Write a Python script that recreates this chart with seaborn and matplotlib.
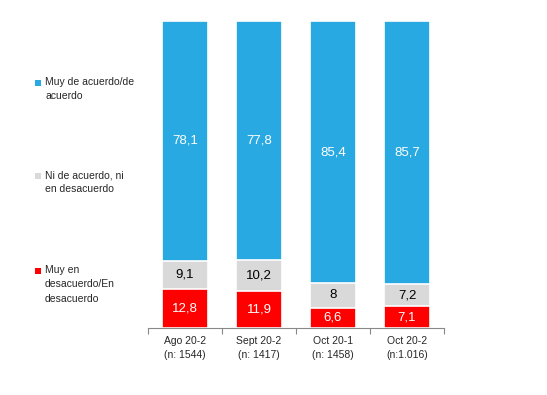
import numpy as np
import pandas as pd
import matplotlib
matplotlib.use("Agg")
import matplotlib.pyplot as plt
from matplotlib.patches import Rectangle
import seaborn as sns

# Datos
periodos = ["Ago 20-2\n(n: 1544)", "Sept 20-2\n(n: 1417)", "Oct 20-1\n(n: 1458)", "Oct 20-2\n(n:1.016)"]
desacuerdo = [12.8, 11.9, 6.6, 7.1]
ni_ni = [9.1, 10.2, 8, 7.2]
acuerdo = [78.1, 77.8, 85.4, 85.7]
etiquetas_ni = ["9,1", "10,2", "8", "7,2"]
etiquetas_des = ["12,8", "11,9", "6,6", "7,1"]
etiquetas_ac = ["78,1", "77,8", "85,4", "85,7"]

series = ["Muy de acuerdo/de\nacuerdo", "Ni de acuerdo, ni\nen desacuerdo", "Muy en\ndesacuerdo/En\ndesacuerdo"]
colores = ["#29A9E1", "#D9D9D9", "#FF0000"]

sns.set_style("white")
plt.rcParams['font.family'] = ['Liberation Sans', 'DejaVu Sans']

df = pd.DataFrame({"periodo": periodos, "des": desacuerdo, "ni": ni_ni, "ac": acuerdo})
df["tope_ni"] = df["des"] + df["ni"]
df["tope_ac"] = df["tope_ni"] + df["ac"]

fig = plt.figure(figsize=(5.47, 3.95), dpi=100)
ax = fig.add_axes([0.2706, 0.1696, 0.5411, 0.7772])

# barras apiladas: se dibujan los totales acumulados de arriba hacia abajo
for col, color in zip(["tope_ac", "tope_ni", "des"], colores):
    sns.barplot(data=df, x="periodo", y=col, color=color, width=0.61,
                edgecolor="white", linewidth=1.2, ax=ax, saturation=1)

ax.set_ylim(0, 100)
ax.set_xlim(-0.5, 3.5)
ax.set_xlabel("")
ax.set_ylabel("")
ax.set_yticks([])
for s in ["top", "right", "left"]:
    ax.spines[s].set_visible(False)
ax.spines["bottom"].set_color("#888888")
ax.spines["bottom"].set_linewidth(0.8)

# ticks menores en los límites de las categorías
ax.set_xticks(np.arange(len(periodos)))
ax.set_xticklabels(periodos, fontsize=7.5, linespacing=1.45)
ax.tick_params(axis="x", which="major", length=0, pad=6)
ax.set_xticks(np.arange(-0.5, len(periodos), 1.0), minor=True)
ax.tick_params(axis="x", which="minor", bottom=True, length=4, color="#888888",
               width=0.8, direction="out")

for i in range(len(periodos)):
    ax.text(i, desacuerdo[i] / 2, etiquetas_des[i], ha="center", va="center",
            color="white", fontsize=9.5)
    ax.text(i, desacuerdo[i] + ni_ni[i] / 2, etiquetas_ni[i], ha="center", va="center",
            color="black", fontsize=9.5)
    ax.text(i, df["tope_ni"][i] + acuerdo[i] / 2, etiquetas_ac[i], ha="center", va="center",
            color="white", fontsize=9.5)

# leyenda manual
W, H = 547, 395
pos_y = [83, 176, 271]
for texto, color, y in zip(series, colores, pos_y):
    fig.patches.append(Rectangle((35 / W, 1 - (y + 3) / H), 6 / W, 6 / H,
                                 transform=fig.transFigure, facecolor=color,
                                 edgecolor="none"))
    fig.text(45 / W, 1 - (y - 6) / H, texto, ha="left", va="top",
             fontsize=7.5, linespacing=1.55)

fig.savefig("out.png", dpi=100)
